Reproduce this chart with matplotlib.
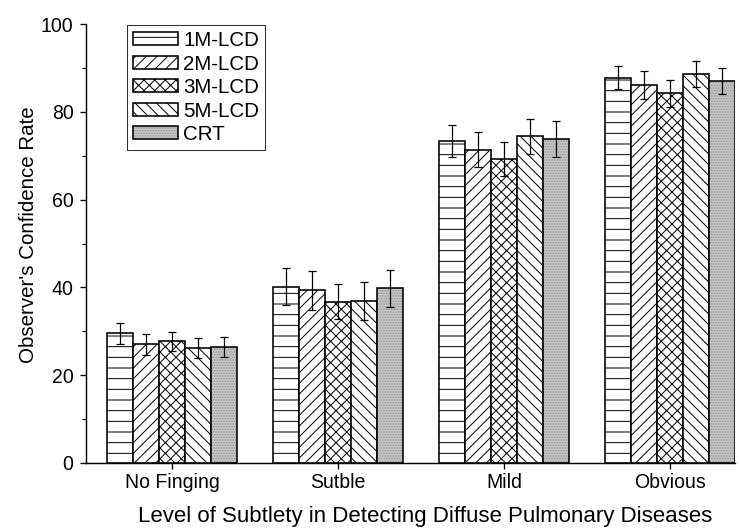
import numpy as np
import matplotlib
matplotlib.use("Agg")
import matplotlib.pyplot as plt
from matplotlib.legend_handler import HandlerTuple
from matplotlib.ticker import MultipleLocator

# Observer confidence by level of subtlety, per display type
categories = ["No Finging", "Sutble", "Mild", "Obvious"]
series_names = ["1M-LCD", "2M-LCD", "3M-LCD", "5M-LCD", "CRT"]

lcd_1m = [29.5, 40.2, 73.4, 87.8]
lcd_2m = [27.0, 39.3, 71.4, 86.1]
lcd_3m = [27.7, 36.7, 69.2, 84.2]
lcd_5m = [26.2, 36.9, 74.4, 88.6]
crt = [26.4, 39.8, 73.8, 87.0]

err_1m = [2.3, 4.2, 3.7, 2.6]
err_2m = [2.4, 4.4, 4.0, 3.2]
err_3m = [2.2, 4.0, 3.9, 3.0]
err_5m = [2.3, 4.3, 3.9, 2.9]
err_crt = [2.3, 4.2, 4.0, 3.0]

values = [lcd_1m, lcd_2m, lcd_3m, lcd_5m, crt]
errors = [err_1m, err_2m, err_3m, err_5m, err_crt]
hatches = ["-", "//", "xx", "\\\\", None]

DPI = 64
plt.rcParams["font.family"] = ["Liberation Sans", "DejaVu Sans"]
plt.rcParams["hatch.linewidth"] = 1.1

fig = plt.figure(figsize=(740 / DPI, 531 / DPI), dpi=DPI)
ax = fig.add_axes([86 / 740, 1 - 463 / 531, 649 / 740, 439 / 531])

x = np.arange(len(categories))
width = 0.157
handles = []
for i, (vals, errs, h) in enumerate(zip(values, errors, hatches)):
    pos = x + (i - 2) * width
    if h is not None:
        bars = ax.bar(pos, vals, width, facecolor="white", edgecolor="black",
                      hatch=h, linewidth=1.8, zorder=2)
        handles.append(bars[0])
    else:
        fill = ax.bar(pos, vals, width, facecolor="#c9c9c9", edgecolor="#8a8a8a",
                      hatch="....", linewidth=0, zorder=2)
        edge = ax.bar(pos, vals, width, fill=False, edgecolor="black",
                      linewidth=1.8, zorder=2.5)
        handles.append((fill[0], edge[0]))
    ax.errorbar(pos, vals, yerr=errs, fmt="none", ecolor="black",
                elinewidth=1.4, capsize=5, capthick=1.4, zorder=3)

ax.set_xlim(-0.518, 3.39)
ax.set_ylim(0, 100)
ax.set_xticks(x)
ax.set_xticklabels(categories)
ax.yaxis.set_major_locator(MultipleLocator(20))
ax.yaxis.set_minor_locator(MultipleLocator(10))

for side in ("top", "right"):
    ax.spines[side].set_visible(False)
for side in ("left", "bottom"):
    ax.spines[side].set_linewidth(1.6)

ax.tick_params(axis="both", which="major", direction="out", length=7,
               width=1.5, labelsize=22, pad=4)
ax.tick_params(axis="y", which="major", pad=7)
ax.tick_params(axis="y", which="minor", direction="out", length=4, width=1.3)

ax.set_ylabel("Observer's Confidence Rate", fontsize=23)
ax.yaxis.set_label_coords(-0.074, 0.52)
ax.set_xlabel("Level of Subtlety in Detecting Diffuse Pulmonary Diseases",
              fontsize=25)
ax.xaxis.set_label_coords(0.522, -0.097)

leg = ax.legend(handles, series_names, loc="upper left",
                bbox_to_anchor=(0.063, 0.998), borderaxespad=0,
                fontsize=23, handlelength=2.2, handleheight=0.62,
                handletextpad=0.25, labelspacing=0.22, borderpad=0.3,
                fancybox=False, edgecolor="black",
                handler_map={tuple: HandlerTuple(ndivide=1, pad=0)})
leg.get_frame().set_linewidth(1.2)

fig.savefig("out.png", dpi=DPI)
